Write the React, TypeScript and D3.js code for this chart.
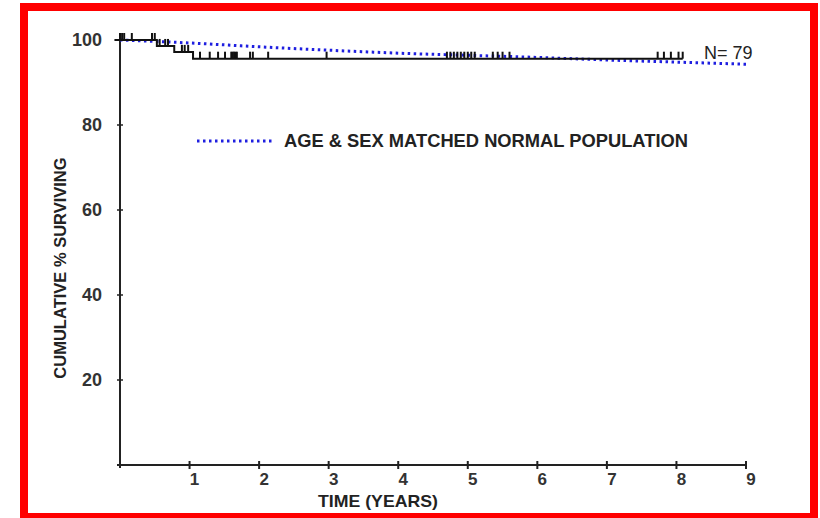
import React from "react";
import * as d3 from "d3";

// Kaplan-Meier steps: [time (years), cumulative % surviving]
const kmSteps: [number, number][] = [
  [-0.08, 100],
  [0.53, 98.6],
  [0.78, 97.2],
  [1.05, 95.6],
  [8.09, 95.6],
];

// censored observations (years)
const censorTimes = [
  0.0, 0.03, 0.06, 0.17, 0.46, 0.5, 0.57, 0.65, 0.69, 0.89, 0.93, 0.98, 1.15, 1.29, 1.41, 1.51,
  1.6, 1.62, 1.64, 1.66, 1.68, 1.87, 1.91, 2.13, 2.97, 4.7, 4.75, 4.8, 4.85, 4.9, 4.95, 5.0, 5.05,
  5.1, 5.36, 5.43, 5.5, 5.6, 7.73, 7.82, 7.92, 8.03, 8.09,
];

// age & sex matched normal population
const normalYears = [0, 1, 2, 3, 4, 5, 6, 7, 8, 9];
const normalSurv = [100, 99.3, 98.4, 97.6, 96.9, 96.4, 95.9, 95.3, 94.8, 94.3];

const xTicks = [1, 2, 3, 4, 5, 6, 7, 8, 9];
const yTicks = [20, 40, 60, 80, 100];

const font = "'Liberation Sans', Arial, sans-serif";

function survivalAt(t: number) {
  let s = 100;
  for (const [ts, v] of kmSteps) if (t >= ts) s = v;
  return s;
}

export default function App() {
  const width = 820;
  const height = 518;
  const x = d3.scaleLinear().domain([0, 9]).range([120, 746]);
  const y = d3.scaleLinear().domain([0, 100]).range([465, 40]);

  const kmLine = d3
    .line<[number, number]>()
    .x((d) => x(d[0]))
    .y((d) => y(d[1]))
    .curve(d3.curveStepAfter);

  const normalLine = d3
    .line<number>()
    .x((_, i) => x(normalYears[i]))
    .y((d) => y(d))
    .curve(d3.curveMonotoneX);

  const axisColor = "#222";

  return (
    <svg
      width={width}
      height={height}
      style={{ position: "absolute", left: 0, top: 0, background: "#fff" }}
    >
      <rect x={24} y={7} width={790} height={510} fill="none" stroke="#ff0000" strokeWidth={8} />

      {/* axes */}
      <line x1={120} x2={120} y1={34} y2={466} stroke={axisColor} strokeWidth={2} />
      <line x1={117} x2={747} y1={y(0)} y2={y(0)} stroke={axisColor} strokeWidth={2} />

      {yTicks.map((t) => (
        <g key={t}>
          <line x1={117} x2={123} y1={y(t)} y2={y(t)} stroke={axisColor} strokeWidth={1.5} />
          <text
            x={102}
            y={y(t)}
            dy="0.35em"
            textAnchor="end"
            fontFamily={font}
            fontWeight="bold"
            fontSize={18}
            fill="#333"
          >
            {t}
          </text>
        </g>
      ))}
      <line x1={120} x2={120} y1={y(0) - 3} y2={y(0) + 3} stroke={axisColor} strokeWidth={2} />
      {xTicks.map((t) => (
        <g key={t}>
          <line x1={x(t)} x2={x(t)} y1={y(0) - 4} y2={y(0) + 4} stroke={axisColor} strokeWidth={2} />
          <text
            x={x(t) + 5}
            y={485}
            textAnchor="middle"
            fontFamily={font}
            fontWeight="bold"
            fontSize={17}
            fill="#333"
          >
            {t}
          </text>
        </g>
      ))}

      <text
        x={378}
        y={507}
        textAnchor="middle"
        fontFamily={font}
        fontWeight="bold"
        fontSize={17}
        fill="#222"
        textLength={120}
        lengthAdjust="spacingAndGlyphs"
      >
        TIME (YEARS)
      </text>
      <text
        transform={`translate(66,268) rotate(-90)`}
        textAnchor="middle"
        fontFamily={font}
        fontWeight="bold"
        fontSize={16.5}
        fill="#222"
      >
        CUMULATIVE % SURVIVING
      </text>

      {/* normal population */}
      <path
        d={normalLine(normalSurv) ?? ""}
        fill="none"
        stroke="#1f1fe0"
        strokeWidth={3}
        strokeDasharray="2.5 3.5"
      />

      {/* KM curve */}
      <path d={kmLine(kmSteps) ?? ""} fill="none" stroke="#111" strokeWidth={2} />
      {censorTimes.map((t, i) => (
        <line
          key={i}
          x1={x(t)}
          x2={x(t)}
          y1={y(survivalAt(t))}
          y2={y(survivalAt(t)) - 7}
          stroke="#111"
          strokeWidth={2}
        />
      ))}

      <text x={704} y={59} fontFamily={font} fontSize={18} fill="#222">
        N= 79
      </text>

      {/* legend */}
      <line
        x1={197}
        x2={275}
        y1={141}
        y2={141}
        stroke="#1f1fe0"
        strokeWidth={3}
        strokeDasharray="2.5 3.5"
      />
      <text
        x={284}
        y={141}
        dy="0.35em"
        fontFamily={font}
        fontWeight="bold"
        fontSize={18}
        fill="#222"
        textLength={404}
        lengthAdjust="spacingAndGlyphs"
      >
        AGE &amp; SEX MATCHED NORMAL POPULATION
      </text>
    </svg>
  );
}
